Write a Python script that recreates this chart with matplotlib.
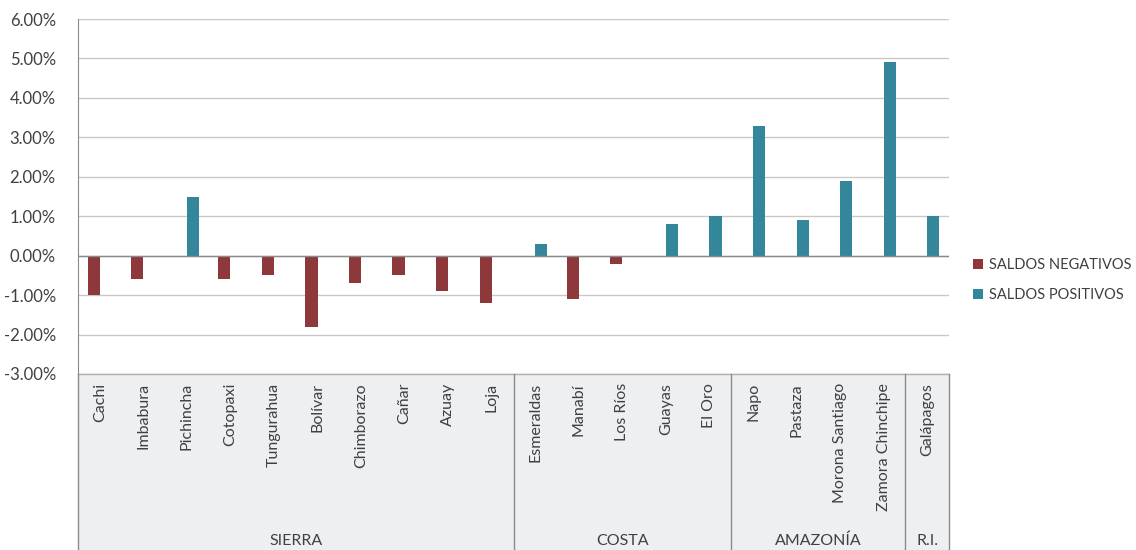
import matplotlib.pyplot as plt
import matplotlib.transforms as mtransforms
from matplotlib.patches import Rectangle
from matplotlib.ticker import FuncFormatter
import numpy as np

plt.rcParams['font.family'] = ['Lato', 'DejaVu Sans']

provincias = ['Cachi', 'Imbabura', 'Pichincha', 'Cotopaxi', 'Tungurahua', 'Bolívar',
              'Chimborazo', 'Cañar', 'Azuay', 'Loja',
              'Esmeraldas', 'Manabí', 'Los Ríos', 'Guayas', 'El Oro',
              'Napo', 'Pastaza', 'Morona Santiago', 'Zamora Chinchipe',
              'Galápagos']
saldos_negativos = [-1.0, -0.6, 0.0, -0.6, -0.5, -1.8, -0.7, -0.5, -0.9, -1.2,
                    0.0, -1.1, -0.2, 0.0, 0.0,
                    0.0, 0.0, 0.0, 0.0,
                    0.0]
saldos_positivos = [0.0, 0.0, 1.5, 0.0, 0.0, 0.0, 0.0, 0.0, 0.0, 0.0,
                    0.3, 0.0, 0.0, 0.8, 1.0,
                    3.3, 0.9, 1.9, 4.9,
                    1.0]
regiones = ['SIERRA', 'COSTA', 'AMAZONÍA', 'R.I.']
n_por_region = [10, 5, 4, 1]

rojo = '#8e383c'
azul = '#34869b'
texto = '#404040'
gris = '#c8c8c8'

fig = plt.figure(figsize=(11.36, 5.5), dpi=100)
ax = fig.add_axes([78 / 1136, 1 - 374 / 550, (949 - 78) / 1136, 355 / 550])

x = np.arange(len(provincias))
w = 0.28
ax.bar(x - w / 2, saldos_negativos, w, color=rojo, label='SALDOS NEGATIVOS', zorder=3)
ax.bar(x + w / 2, saldos_positivos, w, color=azul, label='SALDOS POSITIVOS', zorder=3)

ax.set_xlim(-0.5, len(provincias) - 0.5)
ax.set_ylim(-3, 6)
ax.set_yticks(np.arange(-3, 7, 1))
ax.yaxis.set_major_formatter(FuncFormatter(lambda v, p: f'{v:.2f}%'))
ax.tick_params(axis='y', length=0, labelsize=12, labelcolor=texto, pad=16)
ax.set_xticks([])
ax.grid(axis='y', color=gris, lw=1, zorder=0)
ax.axhline(0, color='#8a8a8a', lw=1, zorder=4)
for s in ['top', 'right', 'bottom']:
    ax.spines[s].set_visible(False)
ax.spines['left'].set_color('#8a8a8a')

# franja de etiquetas
trans = mtransforms.blended_transform_factory(ax.transData, ax.transAxes)
band_h = 176 / 355
ax.add_patch(Rectangle((-0.5, -band_h), len(provincias), band_h, transform=trans,
                       facecolor='#eeeff1', edgecolor='none', clip_on=False, zorder=0))
ax.plot([-0.5, len(provincias) - 0.5], [0, 0], transform=trans, color='#b0b0b0',
        lw=1, clip_on=False)
bordes = np.concatenate([[0], np.cumsum(n_por_region)]) - 0.5
for b in bordes:
    ax.plot([b, b], [-band_h, 0], transform=trans, color='#8a8a8a', lw=1, clip_on=False)

for xi, nombre in zip(x, provincias):
    ax.text(xi, -9 / 355, nombre, transform=trans, rotation=90, ha='center', va='top',
            fontsize=11.5, color=texto)

for i, reg in enumerate(regiones):
    centro = (bordes[i] + bordes[i + 1]) / 2
    ax.text(centro, -167 / 355, reg, transform=trans, ha='center', va='center',
            fontsize=11.5, color=texto)

ax.legend(loc='center left', bbox_to_anchor=(1.012, 0.265), frameon=False,
          handlelength=0.7, handleheight=0.7, handletextpad=0.4, labelspacing=1.1,
          fontsize=10.5, labelcolor=texto)

fig.savefig('out.png', dpi=100)
